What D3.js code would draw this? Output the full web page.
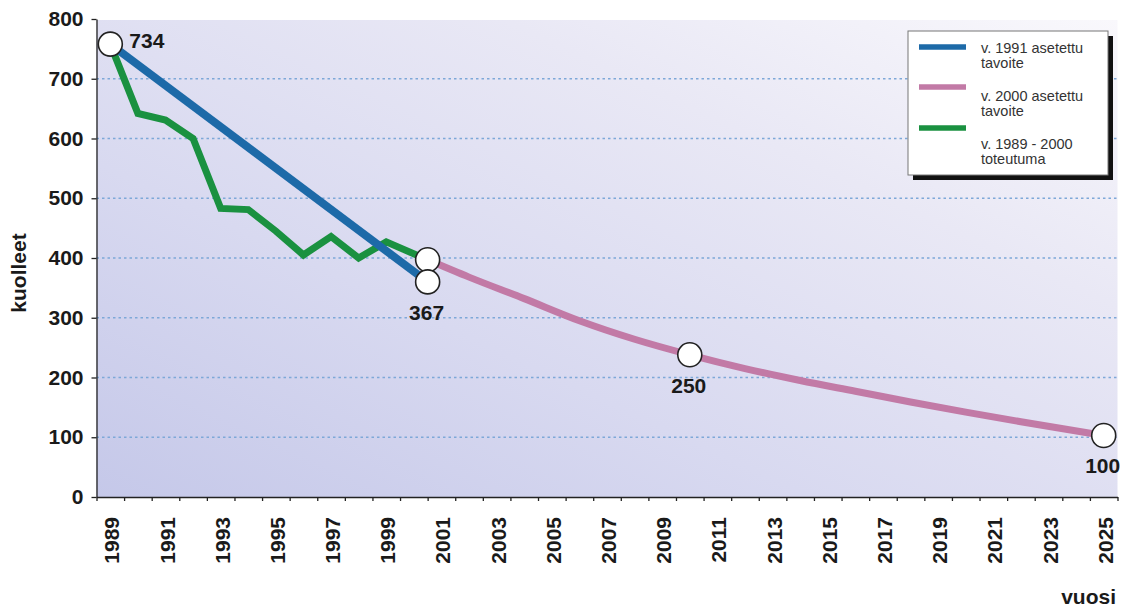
<!DOCTYPE html>
<html lang="fi">
<head>
<meta charset="UTF-8">
<title>Kuolleet 1989-2025</title>
<script src="https://d3js.org/d3.v7.min.js"></script>
<style>
  body { margin: 0; background: #fff; }
  text { font-family: Arial, "Liberation Sans", sans-serif; }
  .big { font-size: 21px; font-weight: bold; fill: #1a1a1a; }
  .legend text { font-size: 14.5px; fill: #333; }
</style>
</head>
<body>
<svg width="1121" height="608"></svg>
<script>
// toteutuma 1989 - 2000
const greenYears = [1989, 1990, 1991, 1992, 1993, 1994, 1995, 1996, 1997, 1998, 1999, 2000.5];
const greenValues = [758, 642, 631, 600, 483, 481, 445, 405, 436, 400, 427, 397];
// v. 1991 asetettu tavoite
const blueYears = [1989, 2000.5];
const blueValues = [758, 360];
// v. 2000 asetettu tavoite
const pinkYears = [2000.5, 2002, 2004, 2006, 2008, 2010, 2012, 2014, 2016, 2018, 2020, 2022, 2025];
const pinkValues = [397, 368, 332, 295, 264, 238, 215, 195, 177, 159, 142, 126, 103];
// ympyrät
const markerYears = [1989, 2000.5, 2000.5, 2010, 2025];
const markerValues = [758, 397, 360, 238, 103];
const markerLabels = ["734", "", "367", "250", "100"];

const yTicks = [0, 100, 200, 300, 400, 500, 600, 700, 800];
const xLabelYears = d3.range(1989, 2026, 2);
const legendLabels = [["v. 1991 asetettu", "tavoite"], ["v. 2000 asetettu", "tavoite"], ["v. 1989 - 2000", "toteutuma"]];
const colors = { blue: "#1d6aa8", pink: "#c27aa6", green: "#1a9140" };

const svg = d3.select("svg");
const plotLeft = 96.5, plotRight = 1117.5, plotTop = 19, plotBottom = 497;

const x = d3.scaleLinear().domain([1988.5, 2025.5]).range([plotLeft, plotRight]);
const y = d3.scaleLinear().domain([0, 800]).range([plotBottom, plotTop]);

// background gradient
const defs = svg.append("defs");
const grad = defs.append("linearGradient").attr("id", "bg")
  .attr("x1", 0).attr("y1", 1).attr("x2", 1).attr("y2", 0);
grad.append("stop").attr("offset", 0).attr("stop-color", "#c5c8e9");
grad.append("stop").attr("offset", 0.35).attr("stop-color", "#d8d9f0");
grad.append("stop").attr("offset", 0.7).attr("stop-color", "#e9e8f5");
grad.append("stop").attr("offset", 1).attr("stop-color", "#f9f8fc");

svg.append("rect")
  .attr("x", plotLeft).attr("y", plotTop + 1)
  .attr("width", plotRight - plotLeft).attr("height", plotBottom - plotTop - 1)
  .attr("fill", "url(#bg)");

// gridlines
svg.append("g").selectAll("line")
  .data(yTicks.filter(d => d > 0 && d < 800))
  .join("line")
  .attr("x1", plotLeft).attr("x2", plotRight)
  .attr("y1", d => y(d)).attr("y2", d => y(d))
  .attr("stroke", "#7ea8d8")
  .attr("stroke-width", 1.3)
  .attr("stroke-dasharray", "2.5,3");

// y axis
const yAxis = svg.append("g")
  .attr("transform", `translate(${plotLeft},0)`)
  .call(d3.axisLeft(y).tickValues(yTicks).tickSize(5).tickPadding(8).tickSizeOuter(0));
yAxis.selectAll("text").attr("class", "big");
yAxis.selectAll("line, path").attr("stroke", "#222").attr("stroke-width", 1.3);

// x axis: ticks on year boundaries, labels on year centres
const xAxis = svg.append("g")
  .attr("transform", `translate(0,${plotBottom})`)
  .call(d3.axisBottom(x).tickValues(d3.range(1988.5, 2026, 1)).tickSize(4).tickFormat("").tickSizeOuter(0));
xAxis.selectAll("line, path").attr("stroke", "#222").attr("stroke-width", 1.3);

svg.append("g").selectAll("text")
  .data(xLabelYears)
  .join("text")
  .attr("class", "big")
  .attr("transform", d => `translate(${x(d) + 1.5},517) rotate(-90)`)
  .attr("text-anchor", "end")
  .attr("dy", "0.36em")
  .text(d => d);

// axis titles
svg.append("text").attr("class", "big")
  .attr("transform", "translate(26,273) rotate(-90)")
  .attr("text-anchor", "middle")
  .text("kuolleet");
svg.append("text").attr("class", "big")
  .attr("x", 1116).attr("y", 604)
  .attr("text-anchor", "end")
  .text("vuosi");

// lines
const line = d3.line().x(d => x(d[0])).y(d => y(d[1]));
const smooth = d3.line().x(d => x(d[0])).y(d => y(d[1])).curve(d3.curveMonotoneX);

svg.append("path")
  .datum(d3.zip(pinkYears, pinkValues))
  .attr("d", smooth)
  .attr("fill", "none").attr("stroke", colors.pink)
  .attr("stroke-width", 7);

svg.append("path")
  .datum(d3.zip(greenYears, greenValues))
  .attr("d", line)
  .attr("fill", "none").attr("stroke", colors.green)
  .attr("stroke-width", 7).attr("stroke-linejoin", "miter");

svg.append("path")
  .datum(d3.zip(blueYears, blueValues))
  .attr("d", line)
  .attr("fill", "none").attr("stroke", colors.blue)
  .attr("stroke-width", 8);

// markers
const markers = d3.zip(markerYears, markerValues, markerLabels);
svg.append("g").selectAll("circle")
  .data(markers)
  .join("circle")
  .attr("cx", d => x(d[0])).attr("cy", d => y(d[1]))
  .attr("r", 12)
  .attr("fill", "#fff")
  .attr("stroke", "#222").attr("stroke-width", 1.6);

svg.append("g").selectAll("text")
  .data(markers.filter(d => d[2] !== ""))
  .join("text")
  .attr("class", "big")
  .attr("x", (d, i) => i === 0 ? x(d[0]) + 19 : x(d[0]) - 1)
  .attr("y", (d, i) => i === 0 ? y(d[1]) + 4 : y(d[1]) + 38)
  .attr("text-anchor", (d, i) => i === 0 ? "start" : "middle")
  .text(d => d[2]);

// legend
const lg = svg.append("g").attr("class", "legend");
lg.append("rect").attr("x", 913).attr("y", 36).attr("width", 200).attr("height", 144).attr("fill", "#111");
lg.append("rect").attr("x", 908).attr("y", 31).attr("width", 200).attr("height", 144)
  .attr("fill", "#fff").attr("stroke", "#777").attr("stroke-width", 1);

const legendColors = [colors.blue, colors.pink, colors.green];
const legendLineY = [47, 87, 128];
const legendTextY = [53, 101, 149];
legendLabels.forEach((lines, i) => {
  lg.append("line")
    .attr("x1", 919).attr("x2", 966)
    .attr("y1", legendLineY[i]).attr("y2", legendLineY[i])
    .attr("stroke", legendColors[i]).attr("stroke-width", 5.5);
  const t = lg.append("text").attr("x", 981).attr("y", legendTextY[i]);
  lines.forEach((s, j) => {
    t.append("tspan").attr("x", 981).attr("dy", j === 0 ? 0 : 15).text(s);
  });
});
</script>
</body>
</html>
